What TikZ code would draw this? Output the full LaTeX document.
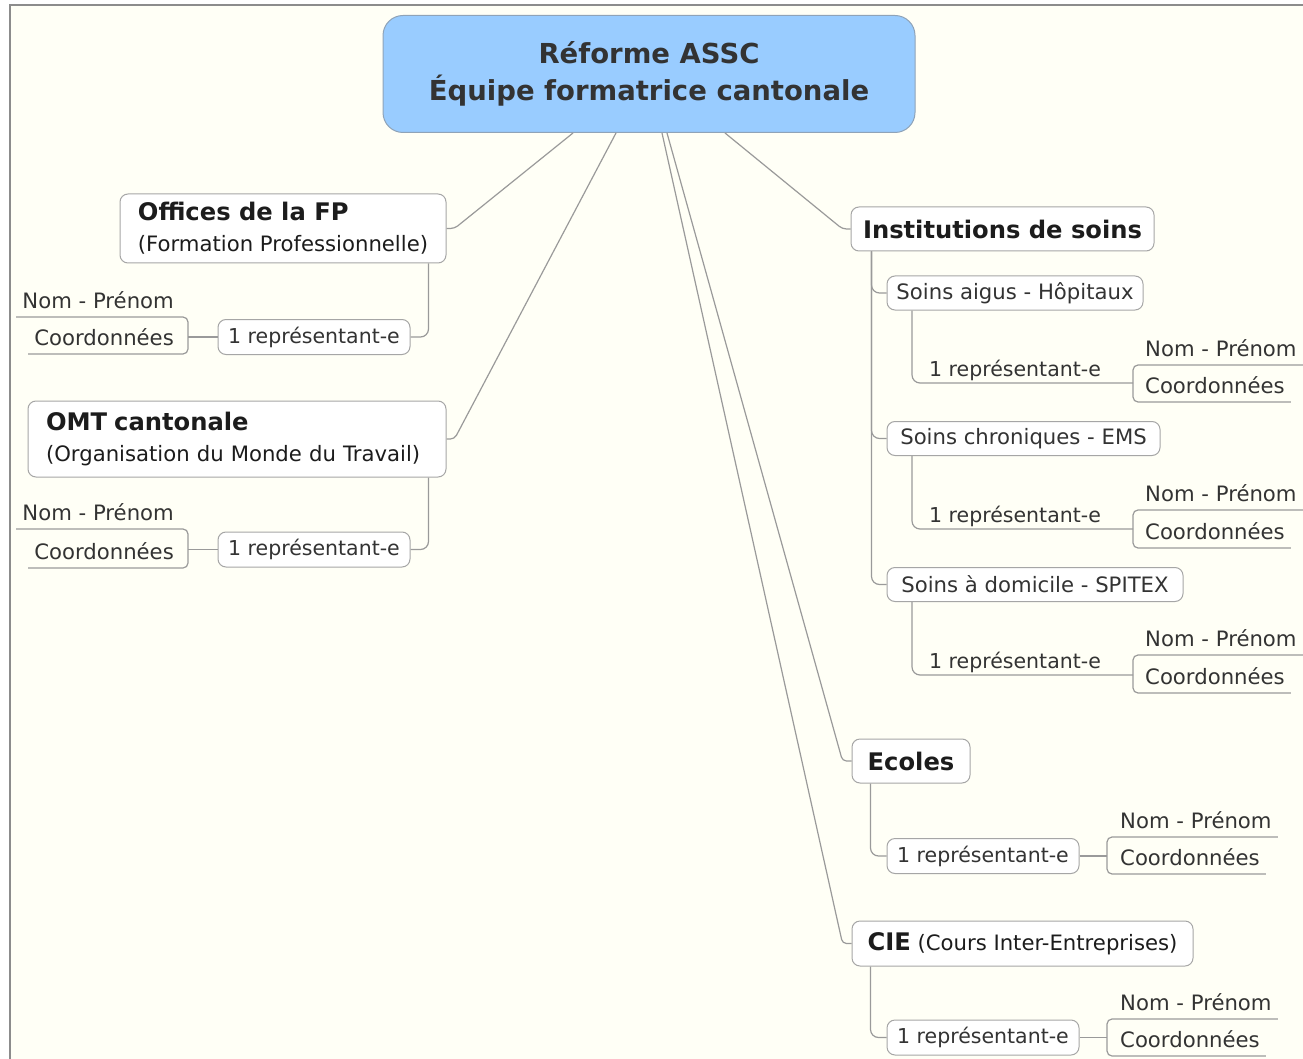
\documentclass[tikz,border=0pt]{standalone}
\usepackage{fontspec}
\setmainfont{DejaVu Sans}
\usepackage{xcolor}
\definecolor{bgcream}{HTML}{FFFFF6}
\definecolor{rootblue}{HTML}{99CCFF}
\definecolor{rootline}{HTML}{8FA3B8}
\definecolor{boxline}{HTML}{A6A6A6}
\definecolor{linkgray}{HTML}{9A9A9A}
\definecolor{framegray}{HTML}{8C8C8C}
\definecolor{textdark}{HTML}{1C1C1C}
\definecolor{textgray}{HTML}{333333}
\usetikzlibrary{positioning}
\newcommand\mmtitle{\fontsize{27.5}{37}\selectfont\bfseries}
\newcommand\mmhead{\fontsize{24.2}{31}\selectfont\bfseries}
\newcommand\mmtext{\fontsize{21.2}{31}\selectfont}
\newcommand\mmrep{\fontsize{20.5}{31}\selectfont}

\tikzset{
  rootbox/.style={draw=rootline,fill=rootblue,rounded corners=20,line width=1,align=center,text=textgray,font=\mmtitle,minimum width=532,minimum height=117,inner sep=0},
  topicbox/.style={draw=boxline,fill=white,rounded corners=8,line width=1,align=left,text=textdark,inner xsep=6,inner ysep=0,font=\mmtext},
  subbox/.style={topicbox,text=textgray,minimum height=34},
  repbox/.style={topicbox,text=textgray,font=\mmrep,minimum width=192,minimum height=35},
  leaftext/.style={inner xsep=6,inner ysep=8,text depth=0pt,text=textgray,font=\mmtext},
  ulrep/.style={leaftext,font=\mmrep,inner xsep=17,inner ysep=6,anchor=south west},
  branch/.style={draw=linkgray,line width=1.2}
}

\begin{document}
\begin{tikzpicture}[x=1pt,y=-1pt]
                % Background and frame
                \useasboundingbox (0,0) rectangle (1303,1059);
                \fill[white] (0,0) rectangle (1303,1059);
                \fill[bgcream] (10,5) rectangle (1303,1059);
                \draw[framegray,line width=1.5] (10,1059) -- (10,5) -- (1303,5);

                % Central topic
                \node[rootbox] (root) at (649,74) {Réforme ASSC\\Équipe formatrice cantonale};

                % Left branches
                \node[topicbox,minimum width=326,minimum height=69] (fp) at (283,228.5) {{\mmhead Offices de la FP}\\(Formation Professionnelle)};
                \node[topicbox,text width=382,inner xsep=18,minimum height=76] (omt) at (237,439) {{\mmhead OMT cantonale}\\(Organisation du Monde du Travail)};
                \node[repbox] (fprep) at (314,337) {1 représentant-e};
                \node[repbox] (omtrep) at (314,549.5) {1 représentant-e};
                \coordinate (fpb) at (188,337);
                \coordinate (omtb) at (188,549.5);
                \node[leaftext,anchor=south east] (fpnom) at (180,317) {Nom - Prénom};
                \node[leaftext,anchor=south east] (fpcoord) at (180,354) {Coordonnées};
                \node[leaftext,anchor=south east] (omtnom) at (180,529) {Nom - Prénom};
                \node[leaftext,anchor=south east] (omtcoord) at (180,568) {Coordonnées};

                % Right branches
                \node[topicbox,minimum width=303,minimum height=44] (inst) at (1002.5,229) {\mmhead Institutions de soins};
                \node[subbox,minimum width=256] (aigus) at (1015,293) {Soins aigus - Hôpitaux};
                \node[subbox,minimum width=273] (chron) at (1023.5,438.5) {Soins chroniques - EMS};
                \node[subbox,minimum width=296] (domi) at (1035,584.5) {Soins à domicile - SPITEX};
                \node[ulrep] (airep) at (912,383) {1 représentant-e};
                \node[ulrep] (chrep) at (912,529) {1 représentant-e};
                \node[ulrep] (dorep) at (912,675) {1 représentant-e};
                \coordinate (aib) at (1133,383);
                \coordinate (chb) at (1133,529);
                \coordinate (dob) at (1133,675);
                \node[leaftext,anchor=south west] (ainom) at (1139,365) {Nom - Prénom};
                \node[leaftext,anchor=south west] (aicoord) at (1139,402) {Coordonnées};
                \node[leaftext,anchor=south west] (chnom) at (1139,510) {Nom - Prénom};
                \node[leaftext,anchor=south west] (chcoord) at (1139,548) {Coordonnées};
                \node[leaftext,anchor=south west] (donom) at (1139,655) {Nom - Prénom};
                \node[leaftext,anchor=south west] (docoord) at (1139,693) {Coordonnées};

                \node[topicbox,minimum width=118,minimum height=44] (ecoles) at (911,761) {\mmhead Ecoles};
                \node[repbox] (ecrep) at (983,856) {1 représentant-e};
                \coordinate (ecb) at (1107,856);
                \node[leaftext,anchor=south west] (ecnom) at (1114,837) {Nom - Prénom};
                \node[leaftext,anchor=south west] (eccoord) at (1114,874) {Coordonnées};

                \node[topicbox,minimum width=341,minimum height=45] (cie) at (1022.5,943.5) {{\mmhead CIE} (Cours Inter-Entreprises)};
                \node[repbox] (cierep) at (983,1037.5) {1 représentant-e};
                \coordinate (cieb) at (1107,1037.5);
                \node[leaftext,anchor=south west] (cienom) at (1114,1019) {Nom - Prénom};
                \node[leaftext,anchor=south west] (ciecoord) at (1114,1056) {Coordonnées};

                % Links from the central topic
                \draw[branch,rounded corners=4] ([xshift=-76]root.south) -- ([xshift=8]fp.east) -- (fp.east);
                \draw[branch,rounded corners=4] ([xshift=-33]root.south) -- ([xshift=8]omt.east) -- (omt.east);
                \draw[branch,rounded corners=4] ([xshift=76]root.south) -- ([xshift=-8]inst.west) -- (inst.west);
                \draw[branch,rounded corners=4] ([xshift=18]root.south) -- ([xshift=-9]ecoles.west) -- (ecoles.west);
                \draw[branch,rounded corners=4] ([xshift=13]root.south) -- ([xshift=-9]cie.west) -- (cie.west);

                % Links inside the branches
                \draw[branch,rounded corners=8] ([xshift=-18]fp.south east) -- ([xshift=-18]fp.south east |- fprep.east) -- (fprep.east);
                \draw[branch,rounded corners=8] ([xshift=-18]omt.south east) -- ([xshift=-18]omt.south east |- omtrep.east) -- (omtrep.east);
                \draw[branch] (fprep.west) -- (fpb);
                \draw[branch] (omtrep.west) -- (omtb);
                \draw[branch,rounded corners=5] (fpnom.south west) -- (fpnom.south -| fpb) -- (fpcoord.south -| fpb) -- (fpcoord.south west);
                \draw[branch,rounded corners=5] (omtnom.south west) -- (omtnom.south -| omtb) -- (omtcoord.south -| omtb) -- (omtcoord.south west);

                \draw[branch,rounded corners=8] ([xshift=21]inst.south west) -- ([xshift=21]inst.south west |- aigus.west) -- (aigus.west);
                \draw[branch,rounded corners=8] ([xshift=21]inst.south west) -- ([xshift=21]inst.south west |- chron.west) -- (chron.west);
                \draw[branch,rounded corners=8] ([xshift=21]inst.south west) -- ([xshift=21]inst.south west |- domi.west) -- (domi.west);
                \draw[branch,rounded corners=8] (aigus.south -| airep.west) -- (airep.south west) -- (aib);
                \draw[branch,rounded corners=8] (chron.south -| chrep.west) -- (chrep.south west) -- (chb);
                \draw[branch,rounded corners=8] (domi.south -| dorep.west) -- (dorep.south west) -- (dob);
                \draw[branch,rounded corners=5] (ainom.south east) -- (ainom.south -| aib) -- (aicoord.south -| aib) -- (aicoord.south east);
                \draw[branch,rounded corners=5] (chnom.south east) -- (chnom.south -| chb) -- (chcoord.south -| chb) -- (chcoord.south east);
                \draw[branch,rounded corners=5] (donom.south east) -- (donom.south -| dob) -- (docoord.south -| dob) -- (docoord.south east);

                \draw[branch,rounded corners=8] ([xshift=19]ecoles.south west) -- ([xshift=19]ecoles.south west |- ecrep.west) -- (ecrep.west);
                \draw[branch] (ecrep.east) -- (ecb);
                \draw[branch,rounded corners=5] (ecnom.south east) -- (ecnom.south -| ecb) -- (eccoord.south -| ecb) -- (eccoord.south east);
                \draw[branch,rounded corners=8] ([xshift=19]cie.south west) -- ([xshift=19]cie.south west |- cierep.west) -- (cierep.west);
                \draw[branch] (cierep.east) -- (cieb);
                \draw[branch,rounded corners=5] (cienom.south east) -- (cienom.south -| cieb) -- (ciecoord.south -| cieb) -- (ciecoord.south east);
\end{tikzpicture}
\end{document}
